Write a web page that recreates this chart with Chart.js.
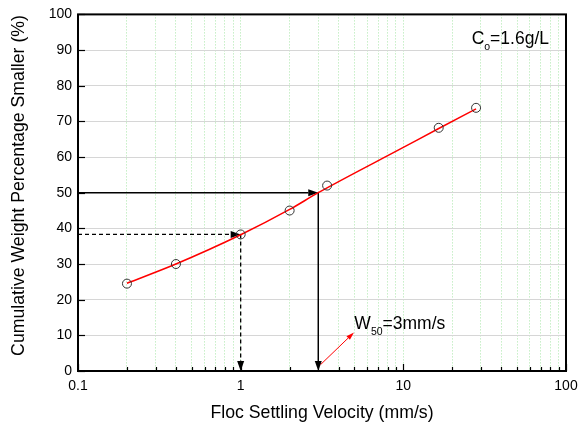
<!DOCTYPE html>
<html><head><meta charset="utf-8">
<script src="https://cdn.jsdelivr.net/npm/chart.js@4.4.1/dist/chart.umd.min.js"></script>
<style>html,body{margin:0;padding:0;background:#fff}canvas{display:block}</style>
</head><body>
<canvas id="c" width="586" height="426"></canvas>
<script>
// ---- data ----
const velocity = [0.2, 0.4, 1, 2, 3.4, 16.5, 28];            // mm/s
const percentSmaller = [24.5, 30, 38.3, 45, 52, 68.2, 73.8];  // %
const fitVelocity = [0.2, 0.4, 1, 2, 3, 10, 16.5, 28];
const fitPercent = [24.6, 30.0, 38.2, 45.3, 50.0, 62.7, 68.0, 73.5];
const xTickValues = [0.1,0.2,0.3,0.4,0.5,0.6,0.7,0.8,0.9,1,2,3,4,5,6,7,8,9,10,20,30,40,50,60,70,80,90,100];
const xTickLabels = ['0.1', '1', '10', '100'];
const yTickValues = [0,10,20,30,40,50,60,70,80,90,100];
const w50Arrow = [3, 50];          // solid guide: W50 at 50 %
const dashedArrow = [1, 38.3];     // dashed guide at 1 mm/s
const pointerArrow = [[3.1, 1.8], [4.97, 10.8]];
const w50Label = {x: 5.0, y: 11.8, main: 'W', sub: '50', rest: '=3mm/s'};
const coLabel = {x: 26.3, y: 91.6, main: 'C', sub: 'o', rest: '=1.6g/L'};
const xTitle = 'Floc Settling Velocity (mm/s)';
const yTitle = 'Cumulative Weight Percentage Smaller (%)';

const FONT = "'Liberation Sans', Arial, Helvetica, sans-serif";

function arrow(ctx, x1, y1, x2, y2, color, width, dash, headLen, headW) {
  const ang = Math.atan2(y2 - y1, x2 - x1);
  const bx = x2 - headLen * Math.cos(ang), by = y2 - headLen * Math.sin(ang);
  ctx.save();
  ctx.strokeStyle = color; ctx.fillStyle = color; ctx.lineWidth = width;
  ctx.setLineDash(dash || []);
  ctx.beginPath(); ctx.moveTo(x1, y1); ctx.lineTo(bx, by); ctx.stroke();
  ctx.setLineDash([]);
  ctx.beginPath();
  ctx.moveTo(x2, y2);
  ctx.lineTo(bx + headW / 2 * Math.sin(ang), by - headW / 2 * Math.cos(ang));
  ctx.lineTo(bx - headW / 2 * Math.sin(ang), by + headW / 2 * Math.cos(ang));
  ctx.closePath(); ctx.fill();
  ctx.restore();
}

function subText(ctx, lab, xs, ys) {
  let x = xs.getPixelForValue(lab.x), y = ys.getPixelForValue(lab.y);
  ctx.save();
  ctx.fillStyle = '#000'; ctx.textBaseline = 'alphabetic'; ctx.textAlign = 'left';
  ctx.font = '17.5px ' + FONT;
  ctx.fillText(lab.main, x, y); x += ctx.measureText(lab.main).width;
  ctx.font = '10.5px ' + FONT;
  ctx.fillText(lab.sub, x, y + 6); x += ctx.measureText(lab.sub).width;
  ctx.font = '17.5px ' + FONT;
  ctx.fillText(lab.rest, x, y);
  ctx.restore();
}

const decorations = {
  id: 'decorations',
  beforeDatasetsDraw(chart) {
    const {ctx, scales: {x, y}, chartArea: a} = chart;
    const sx = x.getPixelForValue(w50Arrow[0]), sy = y.getPixelForValue(w50Arrow[1]);
    arrow(ctx, a.left, sy, sx, sy, '#000', 1.5, null, 10, 7);
    arrow(ctx, sx, sy, sx, y.getPixelForValue(0), '#000', 1.5, null, 10, 7);
    const dx = x.getPixelForValue(dashedArrow[0]), dy = y.getPixelForValue(dashedArrow[1]);
    arrow(ctx, a.left, dy, dx, dy, '#000', 1.3, [4, 3], 10, 7);
    arrow(ctx, dx, dy, dx, y.getPixelForValue(0), '#000', 1.3, [4, 3], 10, 7);
    arrow(ctx, x.getPixelForValue(pointerArrow[0][0]), y.getPixelForValue(pointerArrow[0][1]),
      x.getPixelForValue(pointerArrow[1][0]), y.getPixelForValue(pointerArrow[1][1]), '#ff0000', 1, null, 8, 5);
  },
  afterDraw(chart) {
    const {ctx, scales: {x, y}, chartArea: a} = chart;
    ctx.save();
    ctx.strokeStyle = '#000'; ctx.lineWidth = 1.2;
    yTickValues.forEach(v => {
      const py = Math.round(y.getPixelForValue(v)) + 0.5;
      ctx.beginPath(); ctx.moveTo(a.left, py); ctx.lineTo(a.left + 7, py); ctx.stroke();
    });
    xTickValues.forEach(v => {
      const px = Math.round(x.getPixelForValue(v)) + 0.5;
      const major = xTickLabels.includes(String(v));
      ctx.beginPath(); ctx.moveTo(px, a.bottom); ctx.lineTo(px, a.bottom - (major ? 7 : 4)); ctx.stroke();
    });
    ctx.lineWidth = 2; ctx.strokeStyle = '#000';
    ctx.strokeRect(a.left, a.top, a.right - a.left, a.bottom - a.top);
    ctx.restore();
    subText(ctx, coLabel, x, y);
    subText(ctx, w50Label, x, y);
    ctx.save();
    ctx.translate(19.5, 185.5); ctx.rotate(-Math.PI / 2);
    ctx.fillStyle = '#000'; ctx.font = '17.7px ' + FONT;
    ctx.textAlign = 'center'; ctx.textBaseline = 'middle';
    ctx.fillText(yTitle, 0, 0);
    ctx.restore();
  }
};

new Chart(document.getElementById('c'), {
  type: 'scatter',
  data: {
    datasets: [
      {
        label: 'measured',
        data: velocity.map((v, i) => ({x: v, y: percentSmaller[i]})),
        showLine: false,
        pointRadius: 4.5,
        pointBorderColor: '#333',
        pointBackgroundColor: 'rgba(0,0,0,0)',
        pointBorderWidth: 1
      },
      {
        label: 'fit',
        data: fitVelocity.map((v, i) => ({x: v, y: fitPercent[i]})),
        showLine: true,
        borderColor: '#ff0000',
        borderWidth: 1.5,
        pointRadius: 0,
        cubicInterpolationMode: 'monotone',
        fill: false
      }
    ]
  },
  options: {
    responsive: false,
    animation: false,
    devicePixelRatio: 1,
    layout: {padding: {left: 0, right: 20, top: 13, bottom: 0}},
    plugins: {legend: {display: false}, tooltip: {enabled: false}},
    scales: {
      x: {
        type: 'logarithmic',
        min: 0.1, max: 100,
        afterBuildTicks: s => { s.ticks = xTickValues.map(v => ({value: v})); },
        afterFit: s => { s.height = 55; },
        ticks: {
          autoSkip: false, maxRotation: 0, padding: 7, color: '#000',
          font: {family: FONT, size: 14},
          callback: v => { const s = String(v); return xTickLabels.includes(s) ? s : ''; }
        },
        grid: {color: '#a8e6a8', lineWidth: 1, drawTicks: false},
        border: {display: false, dash: [1, 2]},
        title: {display: true, text: xTitle, color: '#000', font: {family: FONT, size: 17.7}, padding: {top: 0, bottom: 2}}
      },
      y: {
        min: 0, max: 100,
        afterBuildTicks: s => { s.ticks = yTickValues.map(v => ({value: v})); },
        afterFit: s => { s.width = 78; },
        ticks: {padding: 6, color: '#000', font: {family: FONT, size: 14}},
        grid: {color: '#d6d6d6', lineWidth: 1, drawTicks: false},
        border: {display: false}
      }
    }
  },
  plugins: [decorations]
});
</script>
</body></html>
